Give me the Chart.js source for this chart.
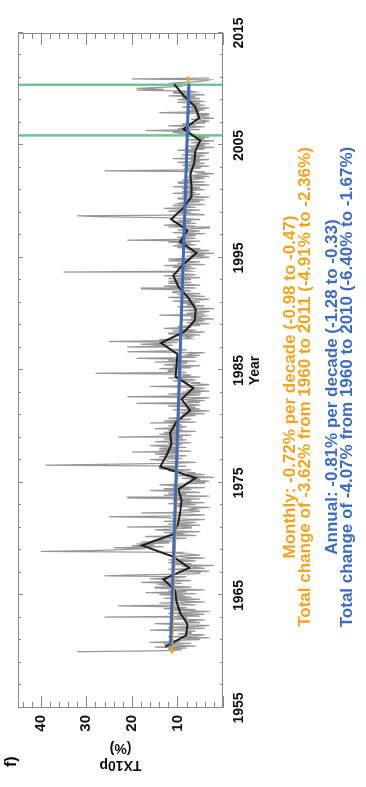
<!DOCTYPE html>
<html>
<head>
<meta charset="utf-8">
<script src="https://cdn.jsdelivr.net/npm/chart.js@4.4.1/dist/chart.umd.min.js"></script>
<style>
  html, body { margin: 0; padding: 0; background: #fff; overflow: hidden; width: 366px; height: 787px; }
  /* the figure is laid out landscape and turned a quarter turn */
  #figure { position: absolute; left: 0; top: 0; width: 787px; height: 366px;
            transform-origin: 0 0; transform: translateY(787px) rotate(-90deg); }
  #chart { position: absolute; left: 0; top: 0; }
  .note { position: absolute; left: 0; width: 800px; text-align: center; white-space: nowrap;
          font: bold 17px "Liberation Sans", Arial, sans-serif; line-height: 17px; }
  .monthly { color: #f5a31c; }
  .annual { color: #3b6cc2; }
  #panel { position: absolute; left: 20px; top: 2px; font: bold 16px "Liberation Sans", Arial, sans-serif; }
</style>
</head>
<body>
<div id="figure">
  <canvas id="chart" width="787" height="366"></canvas>
  <div id="panel">f)</div>
  <div class="note monthly" id="n1" style="top:281px"></div>
  <div class="note monthly" id="n2" style="top:296px"></div>
  <div class="note annual" id="n3" style="top:323px"></div>
  <div class="note annual" id="n4" style="top:338px"></div>
</div>
<script>
// Annual TX10p (%), 1960-2010
const annualYears = [1960,1961,1962,1963,1964,1965,1966,1967,1968,1969,
                     1970,1971,1972,1973,1974,1975,1976,1977,1978,1979,
                     1980,1981,1982,1983,1984,1985,1986,1987,1988,1989,
                     1990,1991,1992,1993,1994,1995,1996,1997,1998,1999,
                     2000,2001,2002,2003,2004,2005,2006,2007,2008,2009,2010];
const annualTX10p = [12.7, 8.1, 7.8, 9.4,10.2,10.5,13.1, 7.4,10.9,17.8,
                     10.9, 9.8, 9.4, 9.1, 9.8, 6.0,13.8,12.4,11.3,11.6,
                     10.2, 7.2, 9.1, 6.5,10.4,10.2,10.0,13.6, 8.5, 6.2,
                      6.0, 7.6, 9.8,10.9, 8.7, 5.8, 9.4, 7.8,11.4, 8.7,
                      6.9, 6.9, 7.2, 6.3, 6.1, 5.0, 8.7, 5.2, 6.1, 8.7,10.7];

// Monthly TX10p (%), Jan 1960 onwards, one row per year
const monthlyStart = 1960;
const monthlyTX10p = [
  32,14, 9,12, 8,15, 6,10,13, 7,16,10,   // 1960
  11, 5, 9, 3,12, 6, 4,10, 7, 8, 6,16,   // 1961
   9, 4,12, 6, 3,10,15, 5, 7, 8, 4,11,   // 1962
   8,26, 5,10, 4,12, 7, 3,11, 6,13, 8,   // 1963
  12,23, 6, 9,14, 4, 8,11, 5,13, 7,10,   // 1964
   9,14, 6,17, 8,12, 4,10,15, 7,11,13,   // 1965
  14, 9,18,11, 7,13,16,10, 8,26,19, 6,   // 1966
   5,10, 3, 8,12, 4, 6, 9, 2,11, 7,12,   // 1967
  10, 6,12, 8, 4, 9,11, 5, 7,10, 9,40,   // 1968
  28,22,17,24,13,20,15,19,12,18,11,15,   // 1969
  14, 8,12,17, 6,10, 9,13, 5,11,15,11,   // 1970
   7,21,10, 5,12, 8, 6,13, 9, 4,11,12,   // 1971
  25, 8, 4,11,18, 7, 5, 9, 6, 7, 3,10,   // 1972
  10, 6,12, 4, 9, 7,11, 5,21, 8, 3,13,   // 1973
   8,12, 5,10,16, 7,13, 4,11, 9,14, 9,   // 1974
   4, 8, 3, 7, 5, 9, 2, 6,10, 4, 8, 6,   // 1975
   9,12, 7,14,10,13, 8,39,25,11, 6,12,   // 1976
  13,16, 9,11,14, 8,12,15,10,20, 7,14,   // 1977
  10,14, 8,13,16, 9,12, 7,15,11, 8,13,   // 1978
   9,23,11, 7,14,10,13, 6,12, 9,15,10,   // 1979
   8,12, 9,11,16, 6,13,10, 7,12, 9, 9,   // 1980
   6, 9, 4,10, 7, 3,11, 5, 8, 6,12, 5,   // 1981
   7,19, 5, 8, 4,10, 6, 3,21, 9, 5,12,   // 1982
   5, 9, 3, 8, 6, 4, 7,16, 5, 3, 7, 5,   // 1983
   8,11, 6, 9,12, 5,10, 7, 9,28, 8,12,   // 1984
  12, 9,14, 7,11, 5,13,10, 8,15, 6,12,   // 1985
   9,19, 6,10, 5, 8, 7, 4,21,11, 8,12,   // 1986
  12,21,15,11,18,13,10,25, 9,14, 7, 8,   // 1987
   7,10, 5,12, 8, 4,11, 6, 9,13, 7,10,   // 1988
   5, 7, 3, 8, 6, 4, 9, 2, 7, 5, 4,14,   // 1989
   4, 8, 5, 3, 9, 6, 2, 7,10, 4, 8, 6,   // 1990
   9, 5,11, 6, 3, 8,12, 4, 7,10, 5,11,   // 1991
  11, 7, 9,18, 6,10,13, 5, 8,12, 7,12,   // 1992
  10, 7,12, 5, 9,13, 6, 8,11,35, 7, 8,   // 1993
   9, 6,11, 7,13, 4,10, 8, 5,12, 7,12,   // 1994
   5, 3, 8, 4, 7, 2, 9, 6, 3, 8, 5,10,   // 1995
   8,11, 6,10, 7,12, 5,21, 9, 6,10, 8,   // 1996
   6, 9, 4,11, 7, 5,10, 8, 3,12, 6,13,   // 1997
   9, 6,11, 7,10, 5, 8,12,27,32, 4, 6,   // 1998
  10, 7,12, 5, 9,13, 6, 8,11, 4,10, 9,   // 1999
   5, 8, 4,10, 6, 3, 9, 7, 5,11, 6, 9,   // 2000
   7, 4, 9, 5,11, 6, 3, 8,10, 4, 7, 9,   // 2001
   6, 4, 8, 3, 7, 5, 2, 6, 4,26, 7, 8,   // 2002
   5, 8, 3, 9, 6, 4,10, 5, 7, 3,11, 5,   // 2003
   7, 4, 9, 5, 3, 8, 6,10, 4, 7, 2, 8,   // 2004
   4, 6, 3, 7, 5, 2, 8, 4, 6, 3, 7, 5,   // 2005
   6, 9,11, 7,17, 5,10, 8, 4,12, 6, 9,   // 2006
   4, 6, 3, 5, 7, 2, 4, 6, 3, 5, 3,14,   // 2007
   5, 8, 4, 7, 3, 9, 6, 4, 8, 5,10, 4,   // 2008
   7,10, 5, 9, 6,12, 4, 8,11, 6, 7,19,   // 2009
  13,19,14, 9,11, 7,12,10, 6, 4, 3,20,   // 2010
   3                                     // 2011
];

// Linear trends: monthly (1960-2011) and annual (1960-2010)
const monthlyTrendYears = [1960.0, 2011.0];
const monthlyTrendValues = [11.20, 7.58];
const annualTrendYears = [1960.5, 2010.5];
const annualTrendValues = [11.55, 7.48];

// Vertical reference lines
const markerYears = [2005.9, 2010.4];

// Axis ticks and labels
const yearLabels = [1955, 1965, 1975, 1985, 1995, 2005, 2015];
const valueLabels = [10, 20, 30, 40];
const yearRange = [1955, 2015];
const valueRange = [0, 45];

const notes = [
  'Monthly: -0.72% per decade (-0.98 to -0.47)',
  'Total change of -3.62% from 1960 to 2011 (-4.91% to -2.36%)',
  'Annual: -0.81% per decade (-1.28 to -0.33)',
  'Total change of -4.07% from 1960 to 2010 (-6.40% to -1.67%)'
];
['n1','n2','n3','n4'].forEach((id, i) => { document.getElementById(id).textContent = notes[i]; });

const FONT = '"Liberation Sans", Arial, sans-serif';
const AXIS_COLOR = '#8a8a8a';

const monthlyPoints = monthlyTX10p.map((v, i) => ({ x: monthlyStart + i / 12, y: v }));
const annualPoints = annualYears.map((yr, i) => ({ x: yr + 0.45, y: annualTX10p[i] }));
const pairs = (xs, ys) => xs.map((x, i) => ({ x, y: ys[i] }));

// box with inward tick marks on all four sides
const boxTicks = {
  id: 'boxTicks',
  afterDraw(chart) {
    const { ctx, chartArea: a, scales: { x, y } } = chart;
    ctx.save();
    ctx.strokeStyle = AXIS_COLOR;
    ctx.lineWidth = 1;
    ctx.strokeRect(a.left + 0.5, a.top + 0.5, a.right - a.left - 1, a.bottom - a.top - 1);
    ctx.beginPath();
    for (let yr = yearRange[0]; yr <= yearRange[1]; yr += 2) {
      const px = Math.round(x.getPixelForValue(yr)) + 0.5;
      const len = (yr - yearRange[0]) % 10 === 0 ? 5 : 3;
      ctx.moveTo(px, a.bottom); ctx.lineTo(px, a.bottom - len);
      ctx.moveTo(px, a.top); ctx.lineTo(px, a.top + len);
    }
    for (let v = valueRange[0]; v <= valueRange[1]; v += 2) {
      const py = Math.round(y.getPixelForValue(v)) + 0.5;
      const len = v % 10 === 0 ? 12 : 6;
      ctx.moveTo(a.left, py); ctx.lineTo(a.left + len, py);
      ctx.moveTo(a.right, py); ctx.lineTo(a.right - len, py);
    }
    ctx.stroke();
    ctx.restore();
  }
};

const line = (data, color, width, extra) => Object.assign({
  data, borderColor: color, borderWidth: width, pointRadius: 0, tension: 0, fill: false
}, extra || {});

new Chart(document.getElementById('chart'), {
  type: 'line',
  data: {
    datasets: [
      line(pairs(annualTrendYears, annualTrendValues), '#3b6cc2', 3),
      line(pairs(monthlyTrendYears, monthlyTrendValues), '#f5a31c', 2, {
        pointRadius: [3, 2], pointStyle: ['triangle', 'rect'], pointRotation: [-90, 0],
        backgroundColor: '#f5a31c', pointBorderWidth: 0
      }),
      line(annualPoints, '#1e1e1e', 2),
      line(pairs([markerYears[0], markerYears[0]], valueRange), '#72c493', 2.5),
      line(pairs([markerYears[1], markerYears[1]], valueRange), '#72c493', 2.5),
      line(monthlyPoints, '#969696', 1.2)
    ]
  },
  options: {
    responsive: false,
    animation: false,
    devicePixelRatio: 1,
    layout: { padding: { top: 18, right: 33, left: 0, bottom: 98 } },
    plugins: { legend: { display: false }, tooltip: { enabled: false } },
    scales: {
      x: {
        type: 'linear', min: yearRange[0], max: yearRange[1],
        afterBuildTicks: s => { s.ticks = yearLabels.map(v => ({ value: v })); },
        afterFit: s => { s.height = 45; },
        grid: { display: false, drawTicks: false },
        border: { display: false },
        ticks: { font: { family: FONT, size: 14, weight: 'bold' }, color: '#111', padding: 8,
                 maxRotation: 0, autoSkip: false, callback: v => String(v) },
        title: { display: true, text: 'Year', font: { family: FONT, size: 14, weight: 'bold' }, color: '#111', padding: { top: 0, bottom: 4 } }
      },
      y: {
        type: 'linear', min: valueRange[0], max: valueRange[1],
        afterBuildTicks: s => { s.ticks = valueLabels.map(v => ({ value: v })); },
        afterFit: s => { s.width = 79; },
        grid: { display: false, drawTicks: false },
        border: { display: false },
        ticks: { font: { family: FONT, size: 15, weight: 'bold' }, color: '#111', padding: 7, callback: v => String(v) },
        title: { display: true, text: ['TX10p', '(%)'], font: { family: FONT, size: 14, weight: 'bold' }, color: '#111', padding: { top: 14, bottom: 0 } }
      }
    }
  },
  plugins: [boxTicks]
});
</script>
</body>
</html>
